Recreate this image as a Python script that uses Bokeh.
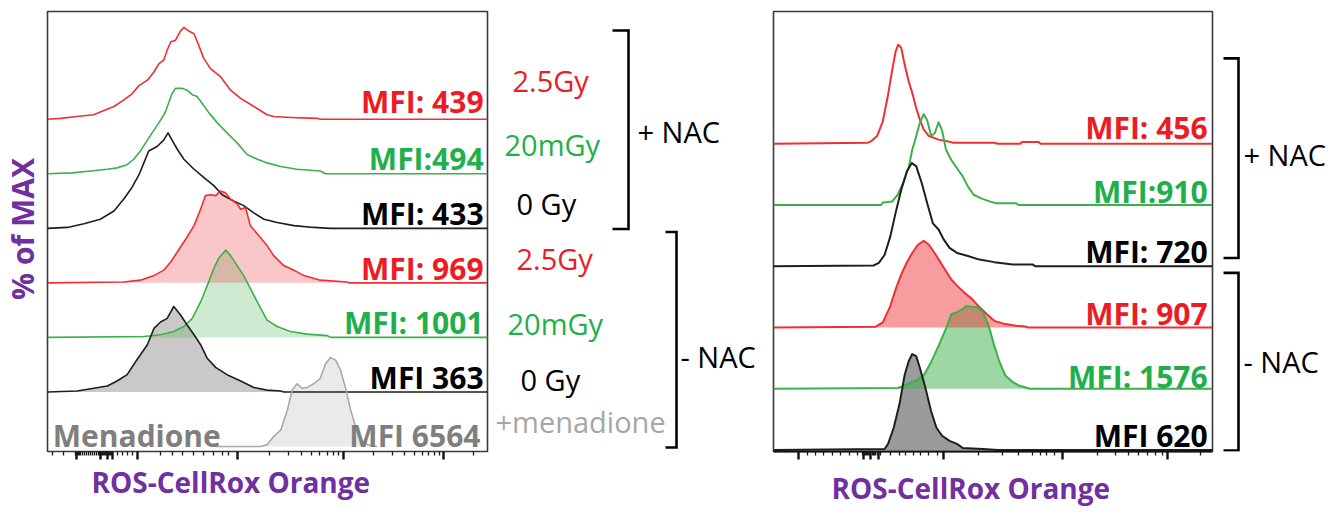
import math
from bokeh.plotting import figure
from bokeh.models import ColumnDataSource, Range1d, FixedTicker, Title
from bokeh.layouts import row
from bokeh.core.properties import value
from bokeh.embed import file_html
from bokeh.resources import INLINE

# ====================== DATA ======================
# x: fluorescence channel (0-1000 display scale), y: % of MAX
# ---- left panel ----
L_NAC_25_X = [0, 30, 67, 105, 120, 151, 173, 192, 208, 227, 242, 253, 264, 272, 280, 291, 302, 310, 321, 333,
              344, 355, 370, 393, 416, 439, 469, 499, 514, 552, 613, 620, 1000]
L_NAC_25_Y = [0, 1, 3, 5, 8, 14, 21, 28, 37, 43, 52, 61, 65, 76, 85, 87, 97, 101, 97, 94,
              81, 67, 56, 47, 32, 23, 14, 5, 3, 2, 1, 0, 0]
L_NAC_20_X = [0, 56, 98, 136, 158, 181, 196, 211, 227, 242, 257, 268, 276, 283, 291, 306, 317, 329, 340, 352,
              367, 386, 408, 431, 454, 477, 499, 530, 567, 620, 632, 1000]
L_NAC_20_Y = [0, 1, 3, 5, 6.5, 10, 16, 25, 37, 48, 59, 68, 79, 88, 94, 94, 92, 87, 85, 77,
              67, 56, 45, 34, 21, 16, 12, 8, 5, 3, 0, 0]
L_NAC_0_X = [0, 45, 83, 120, 151, 173, 192, 208, 219, 230, 249, 264, 274, 283, 295, 310, 333, 355, 378, 397,
             423, 446, 469, 492, 522, 560, 605, 643, 1000]
L_NAC_0_Y = [0, 1, 5, 10, 19, 32, 45, 59, 72, 85, 90, 97, 105, 97, 87, 76, 65, 56, 47, 37,
             30, 25, 17, 10, 6.5, 3, 1, 0, 0]
L_CTL_25_X = [0, 173, 211, 242, 264, 280, 295, 314, 333, 348, 359, 370, 382, 393, 405, 416, 431, 439, 450, 461,
              480, 499, 514, 537, 560, 583, 620, 681, 685, 1000]
L_CTL_25_Y = [0, 1, 3, 8, 14, 23, 34, 48, 63, 81, 96, 97, 96, 101, 99, 92, 87, 81, 83, 63,
              52, 41, 30, 19, 14, 8, 3, 1, 0, 0]
L_CTL_20_X = [0, 219, 257, 287, 310, 329, 348, 363, 378, 389, 405, 416, 431, 446, 461, 480, 499, 522, 552, 590,
              636, 643, 1000]
L_CTL_20_Y = [0, 1, 3, 6.5, 12, 21, 39, 57, 76, 87, 96, 90, 79, 68, 54, 36, 19, 12, 6.5, 3.6,
              2, 0, 0]
L_CTL_0_X = [0, 67, 105, 136, 158, 181, 204, 227, 242, 257, 272, 287, 302, 317, 333, 348, 363, 382, 408, 439,
             469, 499, 530, 537, 1000]
L_CTL_0_Y = [0, 1, 4, 6.5, 12, 19, 36, 52, 70, 77, 81, 94, 85, 74, 63, 52, 37, 27, 19, 12,
             5, 2, 1, 0, 0]
L_MEN_X = [382, 484, 499, 514, 530, 545, 556, 567, 579, 590, 605, 620, 632, 643, 655, 666, 677, 689, 700, 711,
           727, 749]
L_MEN_Y = [0, 0, 2, 11, 18, 40, 62, 69, 64, 65, 69, 75, 91, 98, 95, 84, 65, 40, 22, 7,
           2, 0]

# ---- right panel ----
R_NAC_25_X = [0, 215, 223, 236, 249, 261, 270, 278, 284, 291, 299, 308, 316, 325, 333, 342, 354, 376, 401, 409,
              503, 511, 562, 566, 604, 608, 1000]
R_NAC_25_Y = [0, 1, 2.6, 7.5, 22, 48, 71, 90, 97, 94, 77, 61, 50, 35, 24, 14, 7.5, 4, 2, 1,
              1, 0, 0, 1.6, 1.6, 0, 0]
R_NAC_20_X = [0, 245, 249, 270, 283, 295, 308, 316, 325, 333, 342, 350, 359, 367, 376, 384, 393, 405, 418, 431,
              443, 456, 473, 494, 507, 553, 558, 1000]
R_NAC_20_Y = [0, 0, 2.3, 3.3, 10, 21, 37, 54, 67, 80, 89, 83, 68, 70, 81, 73, 54, 44, 36, 28,
              18, 10, 6.5, 3.3, 1.6, 1.6, 0, 0]
R_NAC_0_X = [0, 228, 240, 253, 266, 278, 291, 304, 315, 325, 338, 350, 363, 376, 388, 401, 418, 443, 469, 503,
             545, 591, 596, 1000]
R_NAC_0_Y = [0, 0.7, 3.3, 11, 29, 52, 75, 93, 101, 98, 81, 62, 42, 36, 26, 18, 13, 10, 6.5, 4,
             1.6, 1.6, 0, 0]
R_CTL_25_X = [0, 232, 249, 266, 278, 291, 304, 316, 329, 342, 354, 367, 380, 393, 405, 418, 435, 452, 469, 486,
              503, 528, 553, 574, 579, 1000]
R_CTL_25_Y = [0, 0.7, 5, 21, 37, 52, 64, 73, 81, 85, 81, 73, 64, 55, 47, 41, 34, 28, 20, 13,
              6.5, 3.3, 1.6, 1, 0, 0]
R_CTL_20_X = [0, 283, 299, 325, 342, 359, 376, 393, 405, 418, 431, 439, 452, 465, 477, 490, 503, 515, 528, 545,
              562, 579, 583, 1000]
R_CTL_20_Y = [0, 0.7, 3.3, 8, 13, 26, 42, 59, 73, 75, 78, 81, 80, 80, 75, 62, 42, 26, 13, 6.5,
              2.6, 0.7, 0, 0]
R_CTL_0_X = [0, 253, 261, 274, 287, 299, 308, 316, 325, 333, 346, 359, 371, 384, 401, 418, 431, 477, 511, 1000]
R_CTL_0_Y = [0, 1, 6, 22, 45, 74, 87, 94, 92, 81, 61, 38, 22, 14, 9, 6, 2, 1, 0, 0]

# ---- text ----
LEFT_MFI = ["MFI: 439", "MFI:494", "MFI: 433", "MFI: 969", "MFI: 1001", "MFI 363"]
LEFT_MEN_LABELS = ["Menadione", "MFI 6564"]
RIGHT_MFI = ["MFI: 456", "MFI:910", "MFI: 720", "MFI: 907", "MFI: 1576", "MFI 620"]
DOSE_LABELS = ["2.5Gy", "20mGy", "0 Gy", "2.5Gy", "20mGy", "0 Gy", "+menadione"]
GROUP_LABELS = ["+ NAC", "- NAC"]
X_LABEL = "ROS-CellRox Orange"
Y_LABEL = "% of MAX"

# ---- axis ticks (channel units, unlabeled biexponential scale) ----
LEFT_MAJOR_TICKS = [66, 121, 136, 148, 204, 432, 673, 900]
LEFT_MINOR_TICKS = [11, 37, 64, 65, 67, 68, 70, 72, 75, 80, 84, 89, 93, 98, 102, 107, 111, 116, 119, 123, 125,
                    127, 129, 130, 132, 134, 138, 139, 141, 143, 145, 146, 159, 170, 182, 193, 257, 284, 307,
                    332, 355, 377, 398, 411, 505, 547, 577, 600, 619, 636, 649, 661, 741, 783, 811, 834, 852,
                    867, 880, 892, 968]
RIGHT_MAJOR_TICKS = [58, 205, 222, 240, 388, 658, 897]
RIGHT_MINOR_TICKS = [77, 96, 115, 134, 153, 172, 191, 202, 207, 209, 212, 214, 216, 218, 220, 225, 227, 229,
                     231, 233, 236, 238, 244, 267, 286, 301, 320, 335, 354, 373, 468, 521, 559, 589, 608, 623,
                     639, 737, 779, 809, 832, 851, 870, 885, 972]

# ====================== STYLE / LAYOUT ======================
FONT = "Open Sans"
PURPLE = "#7030A0"
RED_T, GREEN_T, BLACK_T, GRAY_T, LGRAY_T = "#ED1C24", "#1FAF4B", "#000000", "#7f7f7f", "#a6a6a6"
RED_L, GREEN_L, BLACK_L, MEN_L = "#ee2f33", "#3cb149", "#1e1e1e", "#a9a9a9"
H = 514
TOP, BOTTOM = 11, 62          # shared top / bottom borders of every plot in the row
FRAME_TOP, FRAME_BOT = TOP, H - BOTTOM


def base_fig(width, x0, x1, y0, y1, **kw):
    p = figure(width=width, height=H, x_range=Range1d(x0, x1), y_range=Range1d(y0, y1),
               min_border_top=TOP, min_border_bottom=BOTTOM,
               toolbar_location=None, output_backend="svg", **kw)
    p.background_fill_color = "white"
    p.border_fill_color = "white"
    p.xgrid.visible = False
    p.ygrid.visible = False
    return p


def deco_fig(width, x0, x1):
    # annotation strip; coordinates are image pixels (y downwards)
    p = base_fig(width, x0, x1, FRAME_BOT, FRAME_TOP, min_border_left=0, min_border_right=0,
                 x_axis_location=None, y_axis_location=None)
    p.outline_line_color = None
    return p


def style_xaxis(p, majors, minors, axis_line):
    ax = p.xaxis[0]
    ax.ticker = FixedTicker(ticks=majors, minor_ticks=minors)
    ax.axis_line_color = "#111111" if axis_line else None
    ax.axis_line_width = 2
    ax.major_tick_in = 0
    ax.major_tick_out = 8
    ax.major_tick_line_width = 2.4
    ax.major_tick_line_color = "#111111"
    ax.minor_tick_in = 0
    ax.minor_tick_out = 4
    ax.minor_tick_line_width = 1.3
    ax.minor_tick_line_color = "#1a1a1a"
    ax.major_label_text_color = None
    ax.major_label_text_font_size = "1px"
    ax.major_label_standoff = 0
    ax.axis_label_standoff = 0


def draw_layers(p, layers, lw):
    srcs = []
    for xs, hs, off, lc, fc, fa in layers:
        src = ColumnDataSource(dict(x=xs, base=[off] * len(xs), top=[off + h for h in hs]))
        srcs.append(src)
    for src, (_, _, _, _, fc, fa) in zip(srcs[::-1], layers[::-1]):
        if fc is not None:
            p.varea(x="x", y1="base", y2="top", source=src, fill_color=fc, fill_alpha=fa)
    for src, layer in zip(srcs, layers):
        p.line(x="x", y="top", source=src, line_color=layer[3], line_width=lw, line_join="round")


# ---------------- y label strip ----------------
pY = deco_fig(46, 0, 46)
pY.text(x=[22], y=[229], text=[Y_LABEL], angle=math.pi / 2, text_color=PURPLE,
        text_font=value(FONT), text_font_style="bold", text_font_size="30px",
        text_align="center", text_baseline="alphabetic")

# ---------------- left panel ----------------
L_Y0 = -5.5
pL = base_fig(443, 0, 1000, L_Y0, L_Y0 + (FRAME_BOT - FRAME_TOP) / 0.9111,
              min_border_left=1, min_border_right=2, y_axis_location=None)
pL.outline_line_color = "#3a3a3a"
pL.outline_line_width = 1.6
style_xaxis(pL, LEFT_MAJOR_TICKS, LEFT_MINOR_TICKS, False)

left_layers = [
    (L_NAC_25_X, L_NAC_25_Y, 360, RED_L, None, 0),
    (L_NAC_20_X, L_NAC_20_Y, 300, GREEN_L, None, 0),
    (L_NAC_0_X, L_NAC_0_Y, 240, BLACK_L, None, 0),
    (L_CTL_25_X, L_CTL_25_Y, 180, RED_L, RED_L, 0.27),
    (L_CTL_20_X, L_CTL_20_Y, 120, GREEN_L, GREEN_L, 0.25),
    (L_CTL_0_X, L_CTL_0_Y, 60, BLACK_L, "#3a3535", 0.27),
    (L_MEN_X, L_MEN_Y, 0, MEN_L, "#c4c4c4", 0.35),
]
draw_layers(pL, left_layers, 1.6)

pL.text(x=[991] * 6, y=[379.5, 317, 256.6, 196.2, 135.9, 75.5], text=LEFT_MFI,
        text_color=[RED_T, GREEN_T, BLACK_T, RED_T, GREEN_T, BLACK_T],
        text_font=value(FONT), text_font_style="bold", text_font_size="30px",
        text_align="right", text_baseline="alphabetic")
pL.text(x=[12, 984], y=[11.9, 11.9], text=LEFT_MEN_LABELS, text_color=GRAY_T,
        text_font=value(FONT), text_font_style="bold", text_font_size="30px",
        text_align=["left", "right"], text_baseline="alphabetic")
pL.add_layout(Title(text=X_LABEL, align="left", offset=44, text_font=FONT, text_font_size="28px",
                    text_font_style="bold", text_color=PURPLE, standoff=2), "below")

# ---------------- middle annotations ----------------
pM = deco_fig(271, 489, 760)
pM.text(x=[512, 504, 516, 516, 507, 520, 495], y=[80.5, 144.5, 203.5, 258.5, 323.5, 379.5, 421.5],
        text=DOSE_LABELS, text_color=[RED_T, GREEN_T, BLACK_T, RED_T, GREEN_T, BLACK_T, LGRAY_T],
        text_font=value(FONT), text_font_size="29px", text_align="left", text_baseline="alphabetic")
pM.text(x=[637, 680], y=[131.5, 356.5], text=GROUP_LABELS, text_color="black",
        text_font=value(FONT), text_font_size="29px", text_align="left", text_baseline="alphabetic")
pM.multi_line(xs=[[612, 628, 628, 612], [665, 676, 676, 665]],
              ys=[[30, 30, 229, 229], [232, 232, 448, 448]],
              line_color="black", line_width=2.6, line_join="miter")

# ---------------- right panel ----------------
R_Y0 = -1.47
pR = base_fig(456, 0, 1000, R_Y0, R_Y0 + (FRAME_BOT - FRAME_TOP) / 1.0233,
              min_border_left=13, min_border_right=4, y_axis_location=None)
pR.outline_line_color = "#3a3a3a"
pR.outline_line_width = 1.6
style_xaxis(pR, RIGHT_MAJOR_TICKS, RIGHT_MINOR_TICKS, True)

right_layers = [
    (R_NAC_25_X, R_NAC_25_Y, 300, RED_L, None, 0),
    (R_NAC_20_X, R_NAC_20_Y, 240, GREEN_L, None, 0),
    (R_NAC_0_X, R_NAC_0_Y, 180, BLACK_L, None, 0),
    (R_CTL_25_X, R_CTL_25_Y, 120, RED_L, RED_L, 0.47),
    (R_CTL_20_X, R_CTL_20_Y, 60, GREEN_L, GREEN_L, 0.5),
    (R_CTL_0_X, R_CTL_0_Y, 0, BLACK_L, "#2a2a2a", 0.47),
]
draw_layers(pR, right_layers, 2.0)

pR.text(x=[989] * 6, y=[316.1, 253.6, 194, 133.4, 71.8, 14.2], text=RIGHT_MFI,
        text_color=[RED_T, GREEN_T, BLACK_T, RED_T, GREEN_T, BLACK_T],
        text_font=value(FONT), text_font_style="bold", text_font_size="30px",
        text_align="right", text_baseline="alphabetic")
pR.add_layout(Title(text=X_LABEL, align="left", offset=58, text_font=FONT, text_font_size="28px",
                    text_font_style="bold", text_color=PURPLE, standoff=15), "below")

# ---------------- right annotations ----------------
pRR = deco_fig(126, 1216, 1342)
pRR.text(x=[1243, 1243], y=[154.5, 361.5], text=GROUP_LABELS, text_color="black",
         text_font=value(FONT), text_font_size="29px", text_align="left", text_baseline="alphabetic")
pRR.multi_line(xs=[[1223, 1238, 1238, 1223], [1223, 1238, 1238, 1223]],
               ys=[[58, 58, 258, 258], [273, 273, 451, 451]],
               line_color="black", line_width=2.6, line_join="miter")

layout = row(pY, pL, pM, pR, pRR, spacing=0)
open("out.html", "w").write(file_html(layout, INLINE))
